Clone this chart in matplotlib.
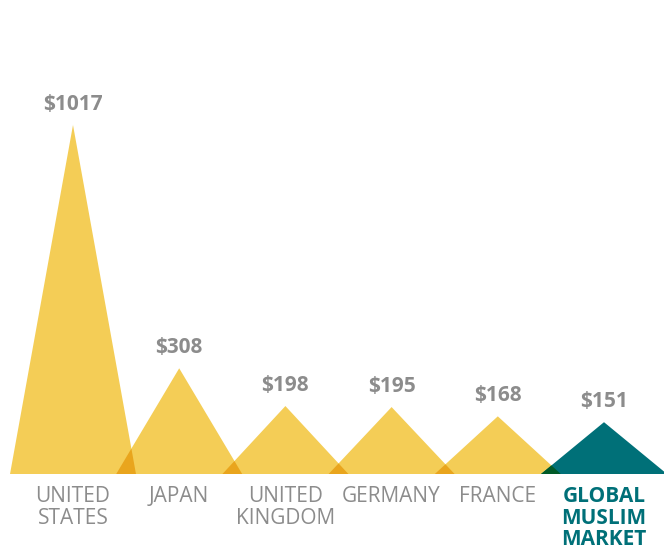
import matplotlib.pyplot as plt
from matplotlib.patches import Polygon
import numpy as np

plt.rcParams['font.family'] = ['Open Sans', 'DejaVu Sans']

categories = ["UNITED\nSTATES", "JAPAN", "UNITED\nKINGDOM", "GERMANY", "FRANCE", "GLOBAL\nMUSLIM\nMARKET"]
values = [1017, 308, 198, 195, 168, 151]
value_labels = ["$1017", "$308", "$198", "$195", "$168", "$151"]

YELLOW = np.array([244, 205, 86]) / 255
TEAL = np.array([0, 112, 120]) / 255
GREY = "#8c8c8c"

half = 0.593          # half base width of each triangle, in category units
px_per_unit = 0.3432  # vertical pixels per value unit
W, H = 664, 549
base_px = 75

fig = plt.figure(figsize=(W / 100, H / 100), dpi=100)
ax = fig.add_axes([0, 0, 1, 1])
ax.set_xlim(-73 / 106.2, 5 + 60 / 106.2)
ax.set_ylim(-base_px / px_per_unit, (H - base_px) / px_per_unit)
ax.axis("off")

xs = np.arange(len(values))
colors = [YELLOW] * (len(values) - 1) + [TEAL]

for x, v, c in zip(xs, values, colors):
    ax.add_patch(Polygon([(x - half, 0), (x, v), (x + half, 0)], closed=True,
                         facecolor=c, edgecolor="none", zorder=2))

# overlaps between neighbours are shaded as a multiply blend of the two fills
for i in range(len(values) - 1):
    x0, v0 = xs[i], values[i]
    x1, v1 = xs[i + 1], values[i + 1]
    a, b = x0 + half, x1 - half
    if b >= a:
        continue
    xi = (v0 * a + v1 * b) / (v0 + v1)
    yi = v0 * (a - xi) / half
    blend = colors[i] * colors[i + 1]
    ax.add_patch(Polygon([(b, 0), (xi, yi), (a, 0)], closed=True,
                         facecolor=blend, edgecolor="none", zorder=3))

for x, v, lab in zip(xs, values, value_labels):
    ax.annotate(lab, (x, v), xytext=(0, 15), textcoords="offset points",
                ha="center", va="center", fontsize=15, fontweight="bold",
                color=GREY)

for i, (x, cat) in enumerate(zip(xs, categories)):
    last = i == len(categories) - 1
    ax.annotate(cat, (x, 0), xytext=(0, -9), textcoords="offset points",
                ha="center", va="top", fontsize=15, linespacing=1.02,
                fontweight="bold" if last else "normal",
                color=TEAL if last else GREY)

fig.savefig("out.png", dpi=100)
